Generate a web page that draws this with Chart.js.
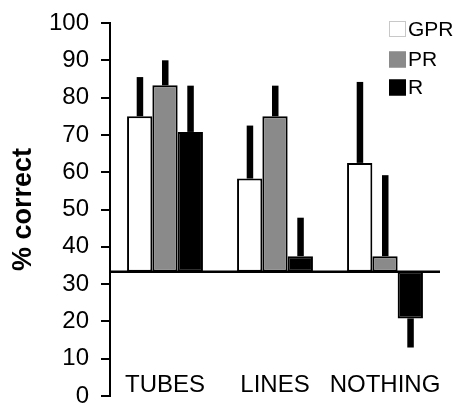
<!DOCTYPE html>
<html>
<head>
<meta charset="utf-8">
<script src="https://cdn.jsdelivr.net/npm/chart.js@4/dist/chart.umd.min.js"></script>
<style>
html,body{margin:0;padding:0;background:#fff;}
#c{display:block;}
</style>
</head>
<body>
<canvas id="c" width="457" height="403"></canvas>
<script>
// ---- data ----
const categories = ['TUBES', 'LINES', 'NOTHING'];
const seriesNames = ['GPR', 'PR', 'R'];
const chanceLevel = 33.3;
const gprValues = [75.0, 58.3, 62.5];
const prValues  = [83.3, 75.0, 37.5];
const rValues   = [70.8, 37.5, 20.8];
// end points of the one-sided error bars
const gprErrEnd = [85.5, 72.5, 84.2];
const prErrEnd  = [90.0, 83.2, 59.2];
const rErrEnd   = [83.2, 47.8, 13.0];
const yTicks = [0, 10, 20, 30, 40, 50, 60, 70, 80, 90, 100];

const FONT = "'Liberation Sans', Arial, Helvetica, sans-serif";
const fills = ['#ffffff', '#8a8a8a', '#000000'];
const legendBorders = ['#c8c8c8', '#8a8a8a', '#000000'];
const values = [gprValues, prValues, rValues];
const errEnds = [gprErrEnd, prErrEnd, rErrEnd];

const datasets = seriesNames.map((name, i) => ({
  label: name,
  data: values[i].map(v => [chanceLevel, v]),
  backgroundColor: fills[i],
  borderColor: '#000',
  borderWidth: 2,
  borderSkipped: false
}));

const overlay = {
  id: 'overlay',
  afterDatasetsDraw(chart) {
    const ctx = chart.ctx, ys = chart.scales.y, area = chart.chartArea;
    ctx.save();
    ctx.fillStyle = '#000';
    chart.data.datasets.forEach((ds, i) => {
      const meta = chart.getDatasetMeta(i);
      meta.data.forEach((bar, j) => {
        const y0 = ys.getPixelForValue(values[i][j]);
        const y1 = ys.getPixelForValue(errEnds[i][j]);
        ctx.fillRect(bar.x - 3, Math.min(y0, y1), 6.5, Math.abs(y1 - y0));
      });
    });
    const yc = ys.getPixelForValue(chanceLevel);
    ctx.strokeStyle = '#000';
    ctx.lineWidth = 2.5;
    ctx.beginPath();
    ctx.moveTo(area.left, yc);
    ctx.lineTo(area.right, yc);
    ctx.stroke();
    ctx.restore();
  },
  afterDraw(chart) {
    const ctx = chart.ctx, area = chart.chartArea;
    ctx.save();
    const bx = area.right - 51;
    const rowsY = [29, 59.5, 87.5];
    ctx.font = '21px ' + FONT;
    ctx.textBaseline = 'middle';
    ctx.textAlign = 'left';
    chart.data.datasets.forEach((ds, i) => {
      const cy = rowsY[i];
      ctx.fillStyle = ds.backgroundColor;
      ctx.fillRect(bx, cy - 8, 17, 16);
      ctx.strokeStyle = legendBorders[i];
      ctx.lineWidth = 1;
      ctx.strokeRect(bx + 0.5, cy - 7.5, 16, 15);
      ctx.fillStyle = '#000';
      ctx.fillText(ds.label, bx + 19, cy + 1);
    });
    ctx.restore();
  }
};

new Chart(document.getElementById('c'), {
  type: 'bar',
  data: { labels: categories, datasets },
  plugins: [overlay],
  options: {
    responsive: false,
    animation: false,
    devicePixelRatio: 1,
    layout: { padding: { left: 0, top: 23, right: 17, bottom: 7 } },
    datasets: { bar: { categoryPercentage: 0.69, barPercentage: 1.0 } },
    plugins: { legend: { display: false }, tooltip: { enabled: false } },
    scales: {
      x: {
        position: { y: 9.5 },
        grid: { display: false },
        border: { display: false },
        ticks: { font: { family: FONT, size: 24 }, color: '#000', padding: 2, maxRotation: 0, autoSkip: false }
      },
      y: {
        min: 0, max: 100,
        afterBuildTicks(s) { s.ticks = yTicks.map(v => ({ value: v })); },
        ticks: { font: { family: FONT, size: 24 }, color: '#000', padding: 12 },
        grid: { display: true, drawOnChartArea: false, drawTicks: true, tickLength: 9, color: '#000', lineWidth: 2 },
        border: { display: true, color: '#000', width: 2 },
        title: { display: true, text: '% correct', color: '#000', font: { family: FONT, size: 27, weight: 'bold' }, padding: { top: 7, bottom: 0 } },
        afterFit(s) { s.width = 110; s.paddingTop = 0; s.paddingBottom = 0; }
      }
    }
  }
});
</script>
</body>
</html>
